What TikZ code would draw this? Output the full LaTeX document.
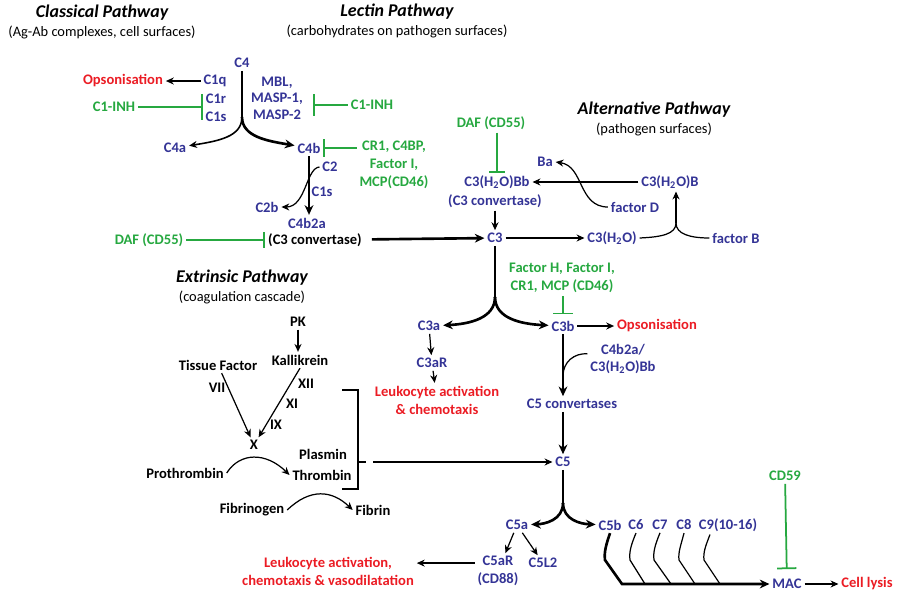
\documentclass[tikz,border=0pt]{standalone}
\usepackage{fontspec}
\setmainfont{Carlito}
\usepackage{tikz}
\usetikzlibrary{arrows.meta, calc}

\definecolor{cblue}{RGB}{52,52,150}
\definecolor{cred}{RGB}{235,28,36}
\definecolor{cgreen}{RGB}{38,168,64}

\tikzset{
  prot/.style={text=cblue},
  reg/.style={text=cgreen},
  outc/.style={text=cred},
  ttl/.style={font=\fontsize{10.2}{12}\selectfont\bfseries\itshape},
  subttl/.style={font=\fontsize{8.2}{10}\selectfont},
  arr/.style={line width=0.7pt, -{Stealth[length=4.5pt, width=4pt]}},
  barr/.style={line width=1.5pt, -{Stealth[length=5.5pt, width=5pt]}},
  inhib/.style={draw=cgreen, line width=1pt, -{Bar[width=#1]}},
  inhib/.default=10pt
}

\begin{document}
\begin{tikzpicture}[x=0.02cm, y=-0.02cm,
    font=\fontsize{8.3}{10.2}\selectfont\bfseries,
    every node/.style={align=center, inner sep=1.5pt}]
    \useasboundingbox (0,0) rectangle (899,592);

    % Pathway titles
    \node[ttl] (t1) at (102,13) {Classical Pathway};
    \node[subttl] (s1) at (102,32) {(Ag-Ab complexes, cell surfaces)};
    \node[ttl] (t2) at (397,12) {Lectin Pathway};
    \node[subttl] (s2) at (397,31) {(carbohydrates on pathogen surfaces)};
    \node[ttl] (t3) at (654,110) {Alternative Pathway};
    \node[subttl] (s3) at (654,129) {(pathogen surfaces)};
    \node[ttl] (t4) at (242,278) {Extrinsic Pathway};
    \node[subttl] (s4) at (242,297) {(coagulation cascade)};

    % Classical and lectin pathways
    \node[outc] (ops1) at (123,81) {Opsonisation};
    \node[prot] (c1q) at (215,81) {C1q};
    \node[prot] (c1r) at (216,99) {C1r};
    \node[prot] (c1s) at (216,117) {C1s};
    \node[reg] (c1inh) at (114,107) {C1-INH};
    \node[prot] (c4) at (242,63) {C4};
    \node[prot, font=\fontsize{8.3}{9.4}\selectfont\bfseries] (mbl) at (277,98) {MBL,\\MASP-1,\\MASP-2};
    \node[reg] (c1inh2) at (372,105) {C1-INH};
    \node[prot] (c4a) at (175,148) {C4a};
    \node[prot] (c4b) at (309,148) {C4b};
    \node[reg] (cr1) at (394,165) {CR1, C4BP,\\Factor I,\\MCP(CD46)};
    \node[prot] (c2) at (330,167) {C2};
    \node[prot] (c1s2) at (322,192) {C1s};
    \node[prot] (c2b) at (267,207) {C2b};
    \node[prot] (c4b2a) at (307,223) {C4b2a};
    \node (c3conv) at (315,240) {(C3 convertase)};
    \node[reg] (daf1) at (149,240) {DAF (CD55)};

    \coordinate (c4sp) at (242,117);
    \draw[arr] (c1q) -- (ops1);
    \draw[inhib=15pt] (c1inh) -- (c1r.west |- c1inh);
    \draw[inhib=12pt] (c1inh2) -- ([xshift=4pt]mbl.east |- c1inh2);
    \draw[line width=1pt] (c4) -- (c4sp);
    \draw[arr, line width=0.9pt] (c4sp) .. controls (242,137) and (218,141) .. (c4a);
    \draw[barr] (c4sp) .. controls (242,137) and (268,141) .. (c4b);
    \draw[inhib] (cr1.west |- c4b) -- (c4b.east);
    \draw[barr] (c4b.south) -- (c4b.south |- c4b2a.north);
    \draw[arr] (c2.west) .. controls (306,168) and (306,207) .. (c2b);
    \draw[inhib=9pt] (daf1) -- (c3conv.west);

    % Alternative pathway
    \node[reg] (daf2) at (491,123) {DAF (CD55)};
    \node[prot] (c3hbb) at (497,182) {C3(H\textsubscript{2}O)Bb};
    \node[prot] (c3conv2) at (495,201) {(C3 convertase)};
    \node[prot] (c3) at (495,238) {C3};
    \node[prot] (c3h) at (612,238) {C3(H\textsubscript{2}O)};
    \node[prot] (c3hb) at (670,182) {C3(H\textsubscript{2}O)B};
    \node[prot] (ba) at (545,162) {Ba};
    \node[prot] (facd) at (635,207) {factor D};
    \node[prot] (facb) at (736,238) {factor B};

    \coordinate (bj) at (676,223);
    \draw[barr, shorten <=4pt] (c3conv) -- (c3);
    \draw[inhib=9pt] (daf2.south -| c3hbb) -- (c3hbb);
    \draw[arr] (c3conv2) -- (c3);
    \draw[arr] (c3) -- (c3h);
    \draw[line width=0.7pt] (c3h.east) .. controls (662,237) and (676,234) .. (bj);
    \draw[line width=0.7pt] (facb.west) .. controls (690,238) and (676,234) .. (bj);
    \draw[arr] (bj) -- (bj |- c3hb.south);
    \draw[arr] (c3hb) -- (c3hbb);
    \draw[arr] (facd.west) .. controls (578,207) and (584,166) .. (ba.east);

    % C3 cleavage
    \node[prot] (c3a) at (429,326) {C3a};
    \node[prot] (c3b) at (563,326) {C3b};
    \node[reg] (fach) at (562,278) {Factor H, Factor I,\\CR1, MCP (CD46)};
    \node[outc] (ops2) at (657,326) {Opsonisation};
    \node[prot] (c3ar) at (432,363) {C3aR};
    \node[outc] (leuk1) at (437,400) {Leukocyte activation\\\& chemotaxis};
    \node[prot] (c4b2ab) at (623,359) {C4b2a/\\C3(H\textsubscript{2}O)Bb};
    \node[prot] (c5conv) at (572,404) {C5 convertases};
    \node[prot] (c5) at (563,462) {C5};

    \coordinate (c3sp) at (495,297);
    \coordinate (c5j) at (563,376);
    \draw[barr, -] (c3) -- (c3sp);
    \draw[barr] (c3sp) .. controls (495,318) and (470,324) .. (c3a);
    \draw[barr] (c3sp) .. controls (495,318) and (520,324) .. (c3b);
    \draw[inhib=11pt, shorten >=2pt] (fach.south -| c3b) -- (c3b);
    \draw[arr] (c3b) -- (ops2);
    \draw[arr] (c3a) -- (c3ar);
    \draw[arr] (c3ar) -- (leuk1);
    \draw[barr] (c3b.south) -- (c3b.south |- c5conv.north);
    \draw[line width=0.7pt] ([yshift=3pt]c4b2ab.west) .. controls (574,353) and (563,362) .. (c5j);
    \draw[barr] (c5conv.south -| c5) -- (c5);

    % Extrinsic pathway
    \node (pk) at (298,322) {PK};
    \node (kall) at (300,360) {Kallikrein};
    \node (tf) at (218,365) {Tissue Factor};
    \node (fx) at (254,445) {X};
    \node (l7) at (217,388) {VII};
    \node (l12) at (306,384) {XII};
    \node (l11) at (292,404) {XI};
    \node (l9) at (276,425) {IX};
    \node (plas) at (323,454) {Plasmin};
    \node (thr) at (322,475) {Thrombin};
    \node (proth) at (185,473) {Prothrombin};
    \node (fibg) at (252,510) {Fibrinogen};
    \node (fib) at (373,510) {Fibrin};

    \coordinate (brk) at (373,462);
    \draw[arr] (pk) -- (pk |- kall.north);
    \draw[arr] (tf) -- (fx);
    \draw[arr] (kall.south) -- (fx);
    \draw[arr] (proth.east) .. controls (240,452) and (266,452) .. (thr.west);
    \draw[arr] (fibg.east) .. controls (310,488) and (332,490) .. (fib.west);
    \draw[line width=0.7pt] (342,390) -- (358,390) -- (358,489) -- (342,489);
    \draw[line width=0.7pt] (358,462) -- (366,462);
    \draw[arr] (brk) -- (c5);

    % C5 cleavage and MAC
    \node[prot] (c5a) at (517,525) {C5a};
    \node[prot] (c5b) at (610,525) {C5b};
    \node[prot] (c6) at (636,525) {C6};
    \node[prot] (c7) at (660,525) {C7};
    \node[prot] (c8) at (684,525) {C8};
    \node[prot] (c9) at (728,525) {C9(10-16)};
    \node[prot] (c5ar) at (498,571) {C5aR\\(CD88)};
    \node[prot] (c5l2) at (543,563) {C5L2};
    \node[outc] (leuk2) at (328,571) {Leukocyte activation,\\chemotaxis \& vasodilatation};
    \node[reg] (cd59) at (785,476) {CD59};
    \node[prot] (mac) at (787,584) {MAC};
    \node[outc] (lysis) at (867,584) {Cell lysis};

    \coordinate (c5sp) at (563,503);
    \coordinate (macj) at (622,584);
    \draw[barr, -] (c5) -- (c5sp);
    \draw[barr] (c5sp) .. controls (563,520) and (545,524) .. (c5a);
    \draw[barr] (c5sp) .. controls (563,520) and (581,524) .. (c5b);
    \draw[arr] (c5a) -- (c5ar);
    \draw[arr] (c5a) -- (c5l2);
    \draw[arr] ([yshift=4.5pt]c5ar.west) -- ([yshift=4.5pt]c5ar.west -| leuk2.east);
    \draw[barr] (c5b.south) .. controls (606,545) and (604,552) .. (605,560) -- (macj) -- (mac);
    \draw[line width=0.7pt] (c6.south) .. controls (631,545) and (629,552) .. (630,560) -- (645,584);
    \draw[line width=0.7pt] (c7.south) .. controls (655,545) and (653,552) .. (654,560) -- (671,584);
    \draw[line width=0.7pt] (c8.south) .. controls (681,545) and (678,552) .. (679,560) -- (695,584);
    \draw[line width=0.7pt] ([xshift=-0.36cm]c9.south) .. controls (706,545) and (703,552) .. (704,560) -- (720,584);
    \draw[inhib=11pt, shorten >=4pt] (cd59) -- (mac);
    \draw[arr] (mac) -- (lysis);
\end{tikzpicture}
\end{document}
